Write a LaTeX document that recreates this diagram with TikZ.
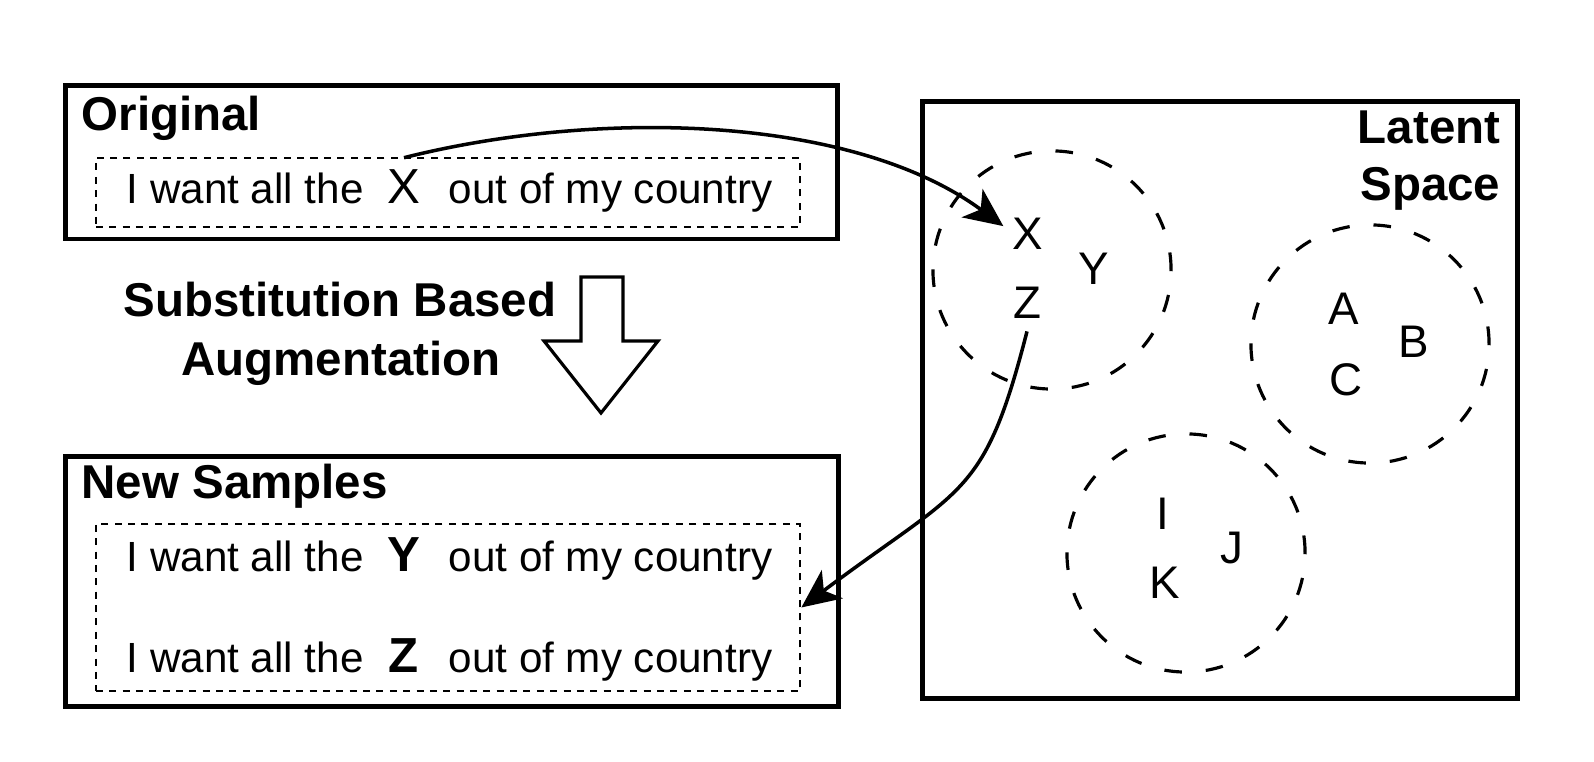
\documentclass[tikz,border=0pt]{standalone}
\usepackage{fontspec}
\setmainfont{Liberation Sans}
\usetikzlibrary{arrows.meta}

\begin{document}
\begin{tikzpicture}[x=0.01cm, y=-0.01cm,
    panel/.style={draw, line width=1.4pt, inner sep=0pt},
    slot/.style={draw, line width=0.65pt, dash pattern=on 2pt off 1.8pt, inner sep=0pt},
    cluster/.style={line width=0.9pt, dash pattern=on 5pt off 6.8pt},
    word/.style={anchor=base west, inner sep=0pt, font=\fontsize{12}{14}\selectfont},
    slotword/.style={anchor=base, font=\fontsize{14}{16}\selectfont},
    heading/.style={inner sep=0pt, font=\fontsize{13.5}{16}\selectfont\bfseries},
    point/.style={anchor=base, font=\fontsize{13}{15}\selectfont},
    link/.style={-{Stealth[length=11pt,width=10pt,inset=3pt]}, line width=1pt}]
  \useasboundingbox (0,0) rectangle (1594,762);
  % left panels
  \node [panel, minimum width=7.71cm, minimum height=1.53cm] (orig) at (451.5,162.5) {};
  \node [slot, minimum width=7.04cm, minimum height=0.69cm] (origslot) at (448,192.5) {};
  \node [heading, anchor=base west] (origtitle) at (81,131) {Original};
  \node [panel, minimum width=7.72cm, minimum height=2.49cm] (new) at (452,581.5) {};
  \node [slot, minimum width=7.04cm, minimum height=1.67cm] (newslot) at (448,607.5) {};
  \node [heading, anchor=base west] (newtitle) at (81,499) {New Samples};
  % sentences
  \foreach \tag/\y/\w in {o/204/X, y/572/\textbf{Y}, z/673/\textbf{Z}} {
    \node [word] (\tag L) at (126,\y) {I want all the};
    \node [slotword] (\tag W) at (404,\y) {\w};
    \node [word] (\tag R) at (448,\y) {out of my country};
  }
  % augmentation step
  \node [heading, anchor=base] (augA) at (340,317) {Substitution Based};
  \node [heading, anchor=base] (augB) at (341,376) {Augmentation};
  \draw [line width=0.9pt] (581,277) -- (623,277) -- (623,341) -- (658,341) -- (601,413)
    -- (544,341) -- (581,341) -- cycle;
  % latent space
  \node [panel, minimum width=5.94cm, minimum height=5.96cm] (latent) at (1220,400) {};
  \node [heading, anchor=base east] (latA) at (1501,144) {Latent};
  \node [heading, anchor=base east] (latB) at (1501,201) {Space};
  \draw [cluster] (1052,270) circle [radius=1.19cm];
  \draw [cluster] (1370,344) circle [radius=1.19cm];
  \draw [cluster] (1186,553) circle [radius=1.19cm];
  \foreach \p/\x/\y in {X/1028/250, Y/1094/285, Z/1027/319, A/1344/325, B/1414/358,
      C/1346/396, I/1163/530, J/1232/564, K/1165/599}
    \node [point] (p\p) at (\x,\y) {\p};
  % substitution arrows
  \draw [link] (oW.north) .. controls (602,108) and (854,116) .. ([shift={(0.03cm,-0.2cm)}]pX.north west);
  \draw [link] (pZ.south) .. controls (984,499) and (963,486) .. (newslot.east);
\end{tikzpicture}
\end{document}
